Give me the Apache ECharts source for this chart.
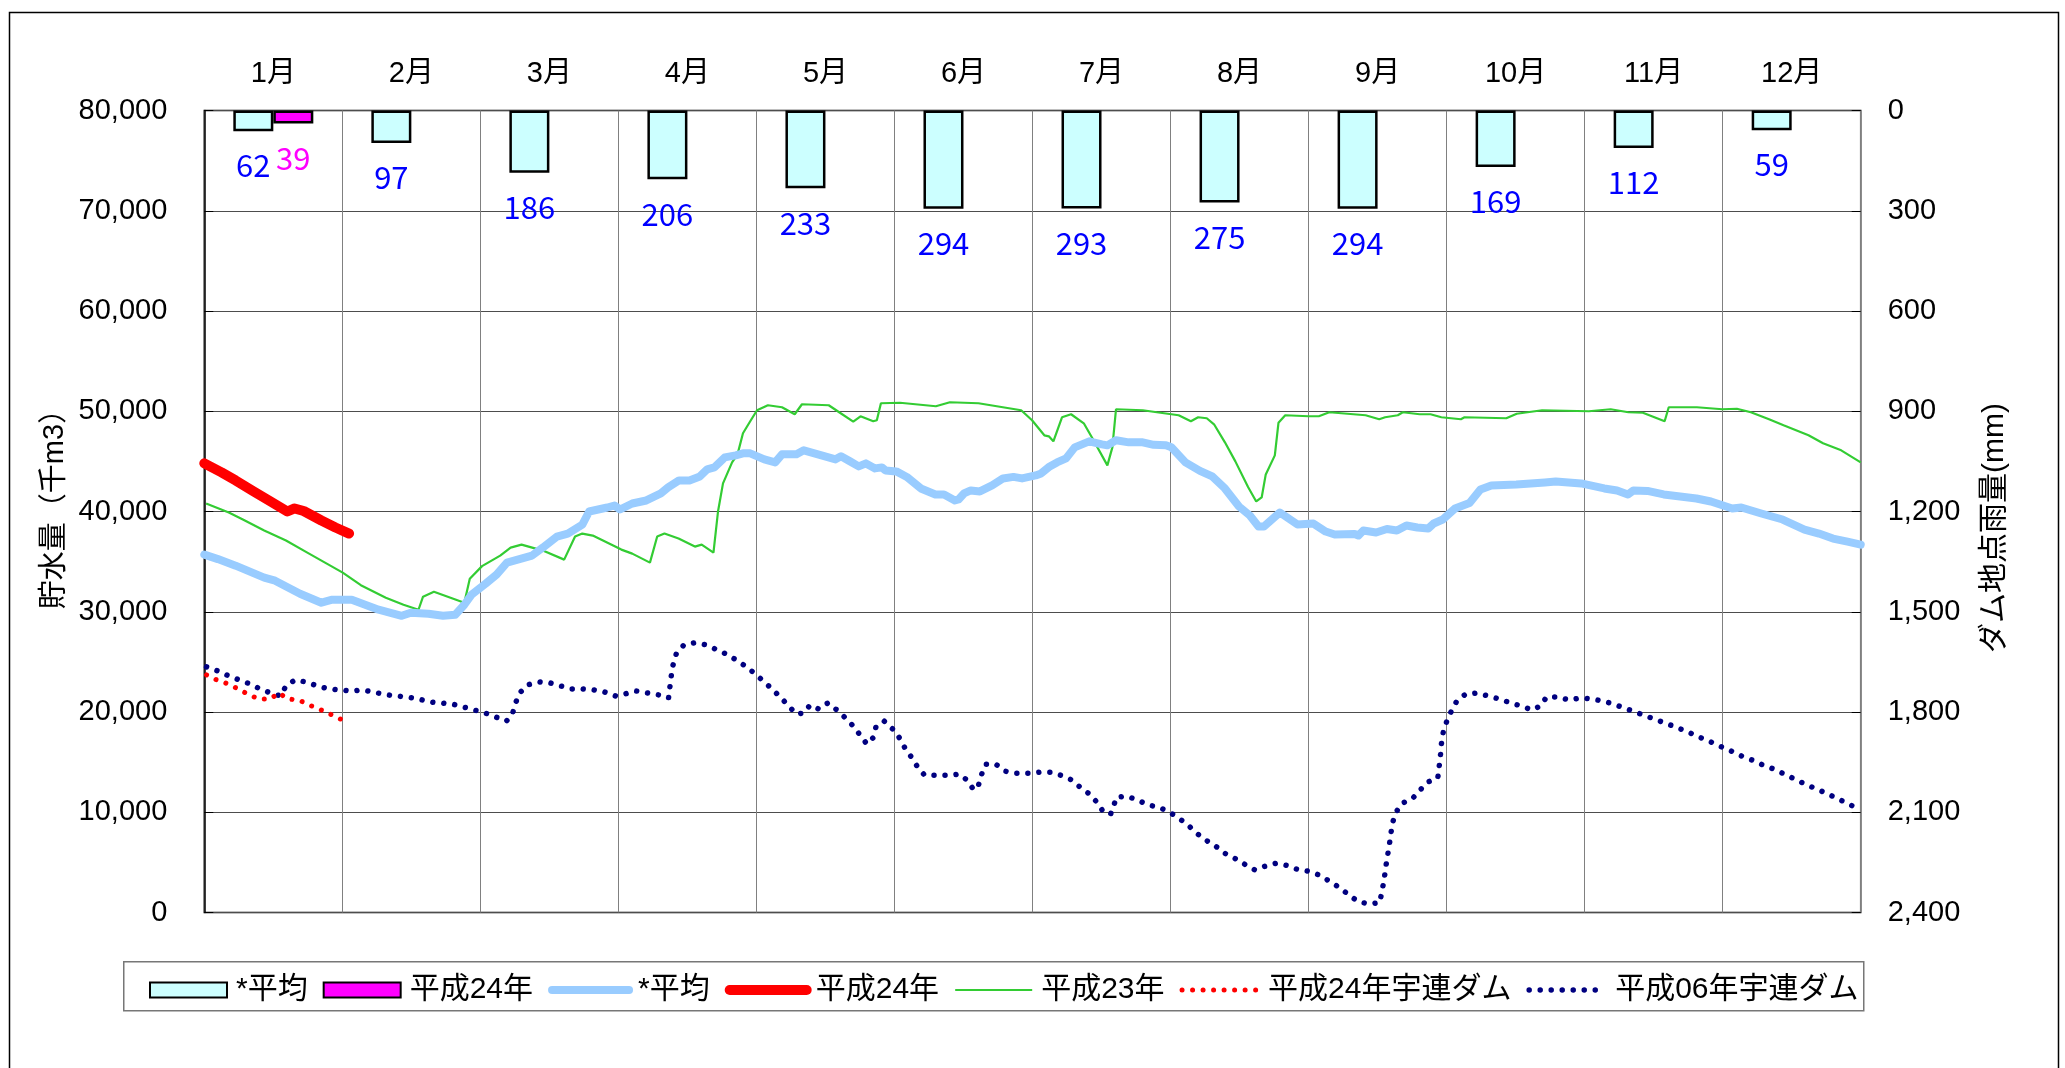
<!DOCTYPE html>
<html>
<head>
<meta charset="utf-8">
<script src="https://cdn.jsdelivr.net/npm/echarts@6/dist/echarts.min.js"></script>
<style>
html,body{margin:0;padding:0;background:#fff;}
#main{width:2065px;height:1068px;}
</style>
</head>
<body>
<div id="main"></div>
<script>
// ---- data ----
const months = ['1月','2月','3月','4月','5月','6月','7月','8月','9月','10月','11月','12月'];
const rainAvg = [62, 97, 186, 206, 233, 294, 293, 275, 294, 169, 112, 59];
const rainH24 = [39, null, null, null, null, null, null, null, null, null, null, null];

// storage lines: [day of year, 千m3]
const storageAvg = [[0,35700],[3,35250],[6.9,34600],[13.2,33400],[15.6,33100],[21.1,31800],[25.8,30900],[28.2,31200],[32.5,31200],[38.4,30200],[43.5,29600],[45.5,29900],[49.4,29800],[52.6,29600],[55.3,29700],[57.3,30700],[58.9,31700],[62,32800],[64.4,33700],[66.7,34900],[72.2,35600],[74.6,36400],[77.7,37500],[80.1,37800],[83.3,38700],[84.8,40000],[88.8,40400],[90.4,40600],[91.6,40200],[94.3,40800],[97.4,41100],[100.6,41800],[102.2,42400],[104.6,43100],[106.9,43100],[109.2,43500],[110.8,44200],[112.4,44400],[114.7,45400],[117.1,45600],[118.7,45800],[120.3,45800],[123.4,45200],[125.8,44900],[127.3,45700],[130.5,45700],[132.1,46100],[136,45600],[139.1,45200],[140.3,45500],[142.3,45000],[144.2,44500],[145.8,44800],[147.8,44300],[149.3,44400],[150.1,44100],[152.5,44000],[154.8,43450],[157.9,42300],[161.1,41700],[163,41700],[165.4,41100],[166.2,41200],[167.4,41800],[168.9,42100],[170.9,42000],[173.6,42600],[176,43300],[178.3,43450],[180.2,43300],[183.2,43600],[184.4,43800],[186.3,44500],[187.9,44900],[189.9,45300],[191.8,46400],[195,47000],[197.8,46700],[199,46600],[200.9,47100],[203.7,46900],[206.8,46900],[209.2,46650],[211.9,46600],[213.1,46400],[216.2,44900],[219.4,44050],[222.1,43500],[224.9,42300],[228,40500],[230.4,39600],[232.3,38500],[233.5,38500],[237,39900],[240.9,38700],[244.4,38800],[247.1,38000],[249.1,37700],[253.5,37750],[254.3,37600],[255.4,38100],[258.2,37900],[260.6,38250],[262.8,38100],[264.9,38600],[267.3,38400],[269.7,38300],[270.9,38800],[272.9,39200],[275.6,40300],[278.8,40850],[281.2,42200],[283.6,42600],[289.1,42700],[295.4,42900],[297.8,43000],[303.4,42800],[308.5,42300],[311.3,42100],[313.7,41700],[314.9,42100],[318,42050],[321.6,41700],[328.8,41300],[332,41000],[336.7,40300],[338.7,40400],[343.1,39800],[347.8,39200],[352.6,38200],[355.8,37800],[358.9,37300],[362.1,37000],[365,36700]];

const storageH24 = [[0,44800],[3.8,43900],[6.9,43100],[10.9,42000],[14.8,40950],[18.3,40000],[19.9,40300],[21.9,40050],[25.8,39100],[28.9,38400],[31.9,37800]];

const storageH23 = [[0.4,40800],[5.4,39900],[8.5,39200],[13.2,38100],[18,37100],[22.7,35900],[26.6,34900],[30.5,33900],[34.5,32650],[40,31400],[43.9,30700],[47.2,30200],[48.2,31500],[50.6,32000],[57.3,30900],[58.5,33300],[61.2,34550],[65.2,35600],[67.5,36400],[69.9,36700],[74.6,36100],[79.3,35200],[81.7,37500],[83.3,37800],[85.6,37600],[91.9,36200],[94.3,35800],[98.2,34900],[99.8,37500],[101.4,37800],[104.5,37300],[108.1,36500],[109.6,36700],[112.2,35900],[113.2,40000],[114.3,42800],[116.3,44900],[117.5,45700],[118.7,47800],[120.3,49000],[121.8,50100],[124.2,50600],[127.3,50400],[130.1,49700],[131.7,50700],[137.6,50600],[139.9,49900],[143,48960],[144.6,49500],[147.4,49000],[148.2,49100],[149.1,50800],[153.3,50850],[161.2,50500],[164.3,50900],[170.6,50800],[180,50100],[182.4,49100],[185.1,47600],[186.1,47500],[187.1,47000],[189,49400],[191,49700],[193.8,48800],[195.7,47300],[199,44600],[200.1,46400],[200.9,50200],[206.8,50100],[209.9,49900],[214.7,49600],[217.4,49000],[219,49400],[220.9,49300],[222.5,48700],[224.9,46900],[227.2,45000],[230,42450],[231.8,41000],[233,41400],[233.9,43700],[235.9,45600],[236.7,48850],[238.2,49600],[243.3,49500],[245.6,49500],[247.9,49900],[255.9,49600],[258.9,49200],[260.2,49400],[263,49600],[264.1,49900],[267.8,49700],[270.2,49700],[272.6,49400],[276.9,49200],[277.7,49400],[286.9,49300],[289.2,49750],[294.8,50100],[305.1,50000],[309.9,50200],[313.8,49900],[317,49850],[321.8,49000],[322.7,50400],[328.9,50400],[334.5,50200],[337.7,50250],[340.8,49900],[344.8,49200],[348,48600],[353.5,47600],[356.7,46800],[360.7,46100],[365,44900]];

const damH24 = [[0.5,23700],[2.75,23200],[5.2,22800],[7.5,22300],[9.7,21750],[12,21300],[14.5,21300],[16.5,21900],[18.3,21300],[20.8,21200],[23.1,20700],[25.5,20250],[27.7,19800],[30,19300]];

const damH06 = [[0.5,24500],[3,24100],[5.4,23600],[7.7,23200],[10.1,22800],[12.3,22300],[14.6,21900],[16.8,21600],[18,22600],[20,23200],[22.4,23000],[24.9,22600],[27.4,22300],[29.9,22200],[32.3,22100],[34.7,22200],[37.2,22000],[39.7,21750],[42.2,21600],[44.7,21500],[47.2,21300],[49.7,21000],[52.2,20900],[54.6,20800],[57.1,20500],[59.5,20200],[61.9,19900],[64.2,19500],[66.6,19100],[67.9,19800],[68.5,20800],[69.5,21900],[71.2,22700],[73.6,23000],[76.2,22900],[78.5,22600],[80.9,22300],[83.3,22300],[85.9,22200],[88.2,22000],[90.6,21600],[92.7,21800],[95.1,22100],[97.7,21900],[100.2,21700],[102.3,21400],[102.6,22500],[102.9,23600],[103.3,24700],[104,25800],[105.7,26700],[108.1,26900],[110.6,26700],[113,26200],[115.4,25700],[117.5,25100],[119.5,24500],[121.4,23800],[123.4,23000],[125.1,22300],[126.9,21500],[128.8,20600],[130.4,19800],[132.1,19900],[133.5,20700],[135.4,20300],[137.4,20900],[139.4,20200],[141.3,19400],[143,18600],[144.5,17700],[146,16800],[147.3,17400],[148,18500],[149.8,19100],[151.7,18300],[153.2,17400],[154.4,16400],[155.8,15500],[157.2,14500],[158.7,13700],[161.2,13700],[163.8,13700],[166.4,13800],[168.1,13200],[169.6,12200],[170.6,12700],[171.3,13800],[172.2,14800],[174.4,14800],[176.4,14100],[178.9,13900],[181.5,13900],[184,14000],[186.5,14000],[188.7,13700],[191,13250],[193,12500],[195.1,11800],[196.7,11000],[198.1,10040],[199.7,9800],[200.5,10800],[201,11500],[203.4,11600],[205.7,11200],[208.2,10700],[210.4,10500],[212.7,10000],[214.8,9400],[216.8,8700],[218.7,7900],[220.6,7250],[222.9,6600],[224.9,5900],[227.1,5400],[229.3,4800],[231.5,4250],[233.6,4600],[236.1,4900],[238.5,4700],[240.9,4300],[243.5,4100],[245.9,3700],[248,3100],[250.1,2500],[252.1,1800],[254.2,1100],[256.6,850],[259,960],[259.5,2100],[260,3300],[260.3,4400],[260.7,5550],[261.1,6650],[261.8,8900],[262.6,10000],[264,10900],[266.3,11400],[267.9,12200],[269.5,13000],[271.8,13400],[272.1,14500],[272.4,15700],[272.6,16800],[273,17950],[273.8,19100],[274.8,20100],[276,21100],[278,21800],[280.5,21900],[282.9,21600],[285.4,21300],[287.9,20900],[290.2,20600],[292.6,20200],[294.4,20600],[295.8,21500],[298.3,21500],[300.7,21200],[303.2,21400],[305.6,21300],[308.2,21100],[310.5,20800],[312.9,20400],[315.3,20000],[317.7,19600],[320.1,19200],[322.5,18800],[324.8,18400],[327.2,17950],[329.4,17500],[331.8,17050],[334.2,16550],[336.5,16100],[338.8,15600],[341.1,15200],[343.5,14700],[345.9,14300],[348.2,13800],[350.5,13300],[352.8,12800],[355.1,12350],[357.4,11900],[359.7,11400],[362,10900],[364.2,10400]];

const legendLabels = {
  'rainAvg': '*平均', 'rainH24': '平成24年', 'stAvg': '*平均', 'stH24': '平成24年',
  'stH23': '平成23年', 'damH24': '平成24年宇連ダム', 'damH06': '平成06年宇連ダム'
};

const FONT = "'Liberation Sans', 'Noto Sans CJK JP', sans-serif";
const chart = echarts.init(document.getElementById('main'), null, {renderer: 'canvas'});
const hideSym = {opacity: 0};

chart.setOption({
  animation: false,
  backgroundColor: '#fff',
  textStyle: {fontFamily: FONT},
  grid: {left: 204.3, right: 204.3, top: 110.5, bottom: 155.5, show: true, borderColor: '#000', borderWidth: 1.5, backgroundColor: 'transparent'},
  graphic: [
    {type: 'rect', left: 7, top: 10, z: -1, shape: {width: 2049, height: 1080}, style: {fill: 'none', stroke: '#000', lineWidth: 1.5}},
    {type: 'rect', left: 123, top: 961, shape: {width: 1740, height: 49}, style: {fill: '#fff', stroke: '#777', lineWidth: 1.5}, z: 0},
    {type: 'text', x: 55, y: 502, rotation: Math.PI/2, style: {text: '貯水量（千m3）', fontSize: 29, fontFamily: FONT, fill: '#000', align: 'center', verticalAlign: 'middle'}},
    {type: 'text', x: 1995, y: 528, rotation: Math.PI/2, style: {text: 'ダム地点雨量(mm)', fontSize: 30, fontFamily: FONT, fill: '#000', align: 'center', verticalAlign: 'middle'}}
  ],
  legend: {
    left: 144, top: 970, itemWidth: 77, itemHeight: 15, itemGap: 15,
    z: 5,
    lineStyle: {width: 'inherit'},
    textStyle: {fontSize: 30, color: '#000', fontFamily: FONT, padding: [0,0,0,4]},
    formatter: function(name){ return legendLabels[name]; },
    data: [
      {name: 'rainAvg', icon: 'rect'},
      {name: 'rainH24', icon: 'rect'},
      {name: 'stAvg', itemStyle: hideSym},
      {name: 'stH24', itemStyle: hideSym},
      {name: 'stH23', itemStyle: hideSym},
      {name: 'damH24', itemStyle: hideSym},
      {name: 'damH06', itemStyle: hideSym}
    ]
  },
  xAxis: [
    {type: 'category', data: months, position: 'top', boundaryGap: true,
     axisLine: {show: false}, axisTick: {show: false},
     axisLabel: {fontSize: 29, color: '#000', margin: 22, fontFamily: FONT},
     splitLine: {show: true, lineStyle: {color: '#808080', width: 1}}},
    {type: 'value', min: 0, max: 365, show: false, gridIndex: 0}
  ],
  yAxis: [
    {type: 'value', min: 0, max: 80000, interval: 10000, position: 'left',
     axisLine: {show: true, lineStyle: {color: '#000', width: 1.5}},
     axisTick: {show: true, inside: true, length: 9, lineStyle: {color: '#000'}},
     axisLabel: {fontSize: 29, color: '#000', margin: 37, fontFamily: FONT},
     splitLine: {show: true, lineStyle: {color: '#4d4d4d', width: 1}}},
    {type: 'value', min: 0, max: 2400, interval: 300, inverse: true, position: 'right',
     axisLine: {show: false},
     axisTick: {show: true, inside: true, length: 9, lineStyle: {color: '#000'}},
     axisLabel: {fontSize: 29, color: '#000', margin: 27, fontFamily: FONT},
     splitLine: {show: false}}
  ],
  series: [
    {name: 'rainAvg', type: 'bar', xAxisIndex: 0, yAxisIndex: 1, data: rainAvg, barWidth: 40, barGap: '0%',
     itemStyle: {color: '#CCFFFF', borderColor: '#000', borderWidth: 2.5},
     label: {show: true, position: 'bottom', distance: 19, color: '#0000FF', fontSize: 31, fontFamily: "'Noto Sans CJK JP', sans-serif"}},
    {name: 'rainH24', type: 'bar', xAxisIndex: 0, yAxisIndex: 1, data: rainH24, barWidth: 40, barGap: '0%',
     itemStyle: {color: '#FF00FF', borderColor: '#000', borderWidth: 2.5},
     label: {show: true, position: 'bottom', distance: 19, color: '#FF00FF', fontSize: 31, fontFamily: "'Noto Sans CJK JP', sans-serif"}},
    {name: 'damH06', type: 'line', xAxisIndex: 1, yAxisIndex: 0, data: damH06, symbol: 'none',
     lineStyle: {color: '#000080', width: 5.5, type: [0.01, 11], cap: 'round'}, itemStyle: {color: '#000080'}},
    {name: 'damH24', type: 'line', xAxisIndex: 1, yAxisIndex: 0, data: damH24, symbol: 'none',
     lineStyle: {color: '#FF0000', width: 5, type: [0.01, 10.5], cap: 'round'}, itemStyle: {color: '#FF0000'}},
    {name: 'stH23', type: 'line', xAxisIndex: 1, yAxisIndex: 0, data: storageH23, symbol: 'none',
     lineStyle: {color: '#33CC33', width: 2.2}, itemStyle: {color: '#33CC33'}},
    {name: 'stAvg', type: 'line', xAxisIndex: 1, yAxisIndex: 0, data: storageAvg, symbol: 'none',
     lineStyle: {color: '#99CCFF', width: 8, join: 'round', cap: 'round'}, itemStyle: {color: '#99CCFF'}},
    {name: 'stH24', type: 'line', xAxisIndex: 1, yAxisIndex: 0, data: storageH24, symbol: 'none',
     lineStyle: {color: '#FF0000', width: 10, join: 'round', cap: 'round'}, itemStyle: {color: '#FF0000'}}
  ]
});
</script>
</body>
</html>
